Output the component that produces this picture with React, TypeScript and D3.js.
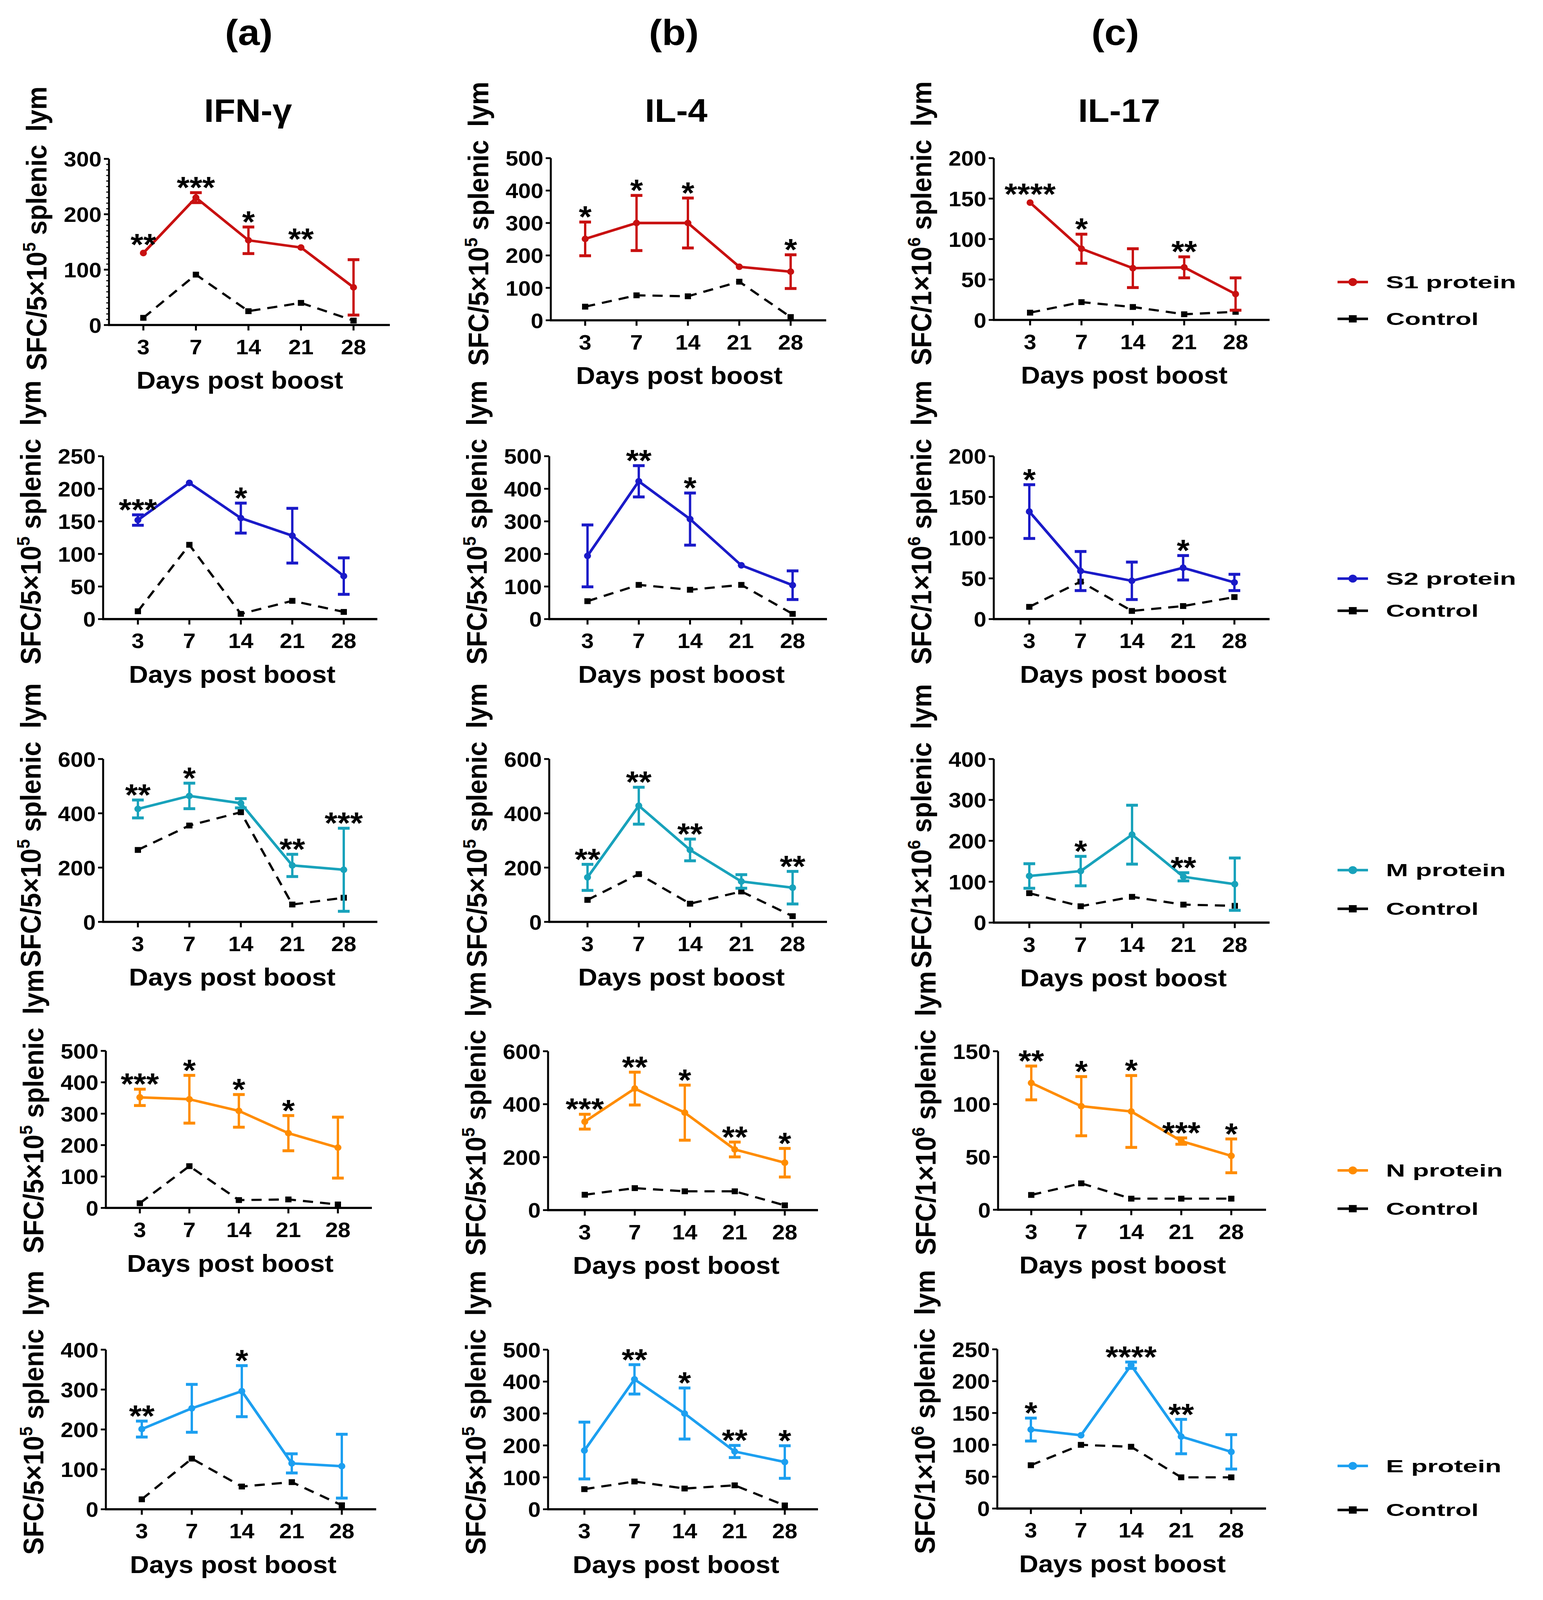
import React from "react";
import * as d3 from "d3";

// ---------- categories & labels ----------
const days = [3, 7, 14, 21, 28];
const columnTags = ["(a)", "(b)", "(c)"];
const cytokines = ["IFN-γ", "IL-4", "IL-17"];
const proteins = ["S1 protein", "S2 protein", "M protein", "N protein", "E protein"];
const controlLabel = "Control";
const xTitle = "Days post boost";
const unitBase = ["5×10", "5×10", "1×10"];
const unitExp = ["5", "5", "6"];

// ---------- y axis extents (row = protein, col = cytokine) ----------
const yMaxIFN = [300, 250, 600, 500, 400];
const yStepIFN = [100, 50, 200, 100, 100];
const yMaxIL4 = [500, 500, 600, 600, 500];
const yStepIL4 = [100, 100, 200, 200, 100];
const yMaxIL17 = [200, 200, 400, 150, 250];
const yStepIL17 = [50, 50, 100, 50, 50];

// ---------- S1 ----------
const s1IfnMean = [130, 230, 153, 140, 68];
const s1IfnErr = [0, 9, 24, 0, 50];
const s1IfnCtrl = [13, 91, 25, 40, 8];
const s1IfnSig = ["**", "***", "*", "**", ""];
const s1Il4Mean = [251, 300, 300, 165, 150];
const s1Il4Err = [52, 85, 77, 0, 52];
const s1Il4Ctrl = [42, 77, 74, 119, 10];
const s1Il4Sig = ["*", "*", "*", "", "*"];
const s1Il17Mean = [145, 88, 64, 65, 32];
const s1Il17Err = [0, 18, 24, 13, 20];
const s1Il17Ctrl = [9, 22, 16, 7, 10];
const s1Il17Sig = ["****", "*", "", "**", ""];

// ---------- S2 ----------
const s2IfnMean = [152, 209, 155, 128, 66];
const s2IfnErr = [8, 0, 23, 42, 28];
const s2IfnCtrl = [12, 114, 8, 28, 11];
const s2IfnSig = ["***", "", "*", "", ""];
const s2Il4Mean = [194, 423, 307, 165, 104];
const s2Il4Err = [95, 48, 80, 0, 44];
const s2Il4Ctrl = [55, 105, 90, 105, 16];
const s2Il4Sig = ["", "**", "*", "", ""];
const s2Il17Mean = [132, 59, 47, 63, 45];
const s2Il17Err = [33, 24, 23, 15, 10];
const s2Il17Ctrl = [15, 46, 10, 16, 27];
const s2Il17Sig = ["*", "", "", "*", ""];

// ---------- M ----------
const mIfnMean = [416, 464, 437, 208, 192];
const mIfnErr = [33, 47, 17, 41, 153];
const mIfnCtrl = [265, 355, 404, 64, 89];
const mIfnSig = ["**", "*", "", "**", "***"];
const mIl4Mean = [164, 428, 265, 149, 126];
const mIl4Err = [48, 68, 40, 25, 60];
const mIl4Ctrl = [81, 176, 67, 112, 21];
const mIl4Sig = ["**", "**", "**", "", "**"];
const mIl17Mean = [114, 126, 215, 112, 94];
const mIl17Err = [30, 36, 72, 10, 64];
const mIl17Ctrl = [72, 40, 63, 44, 41];
const mIl17Sig = ["", "*", "", "**", ""];

// ---------- N ----------
const nIfnMean = [352, 346, 309, 238, 192];
const nIfnErr = [26, 76, 52, 56, 97];
const nIfnCtrl = [15, 133, 25, 27, 11];
const nIfnSig = ["***", "*", "*", "*", ""];
const nIl4Mean = [334, 459, 368, 229, 179];
const nIl4Err = [28, 62, 104, 28, 54];
const nIl4Ctrl = [58, 83, 71, 71, 18];
const nIl4Sig = ["***", "**", "*", "**", "*"];
const nIl17Mean = [120, 98, 93, 65, 51];
const nIl17Err = [16, 28, 34, 3, 16];
const nIl17Ctrl = [14, 25, 10.5, 10.5, 10.5];
const nIl17Sig = ["**", "*", "*", "***", "*"];

// ---------- E ----------
const eIfnMean = [201, 253, 296, 115, 108];
const eIfnErr = [20, 60, 64, 24, 80];
const eIfnCtrl = [25, 127, 57, 68, 10];
const eIfnSig = ["**", "", "*", "", ""];
const eIl4Mean = [184, 407, 300, 181, 148];
const eIl4Err = [89, 46, 80, 19, 51];
const eIl4Ctrl = [63, 87, 65, 75, 12];
const eIl4Sig = ["", "**", "*", "**", "*"];
const eIl17Mean = [124, 115, 225, 113, 89];
const eIl17Err = [18, 0, 5, 27, 27];
const eIl17Ctrl = [68, 100, 97, 49, 49];
const eIl17Sig = ["*", "", "****", "**", ""];

// ---------- styles ----------
const proteinColors = ["#c81010", "#1a1ac8", "#18a2bb", "#ff8c00", "#1c9ff0"];
const FONT = "'Liberation Sans', Arial, Helvetica, sans-serif";

// ---------- layout: [axisX, topY, zeroY, firstTickX, lastTickX, axisEndX] ----------
const W = 3950;
const H = 4391;
const frames = [
  [[279, 436, 892, 367, 905, 998], [1410, 434, 879, 1498, 2024, 2115], [2544, 434, 878, 2637, 3163, 3250]],
  [[264, 1252, 1699, 353, 880, 966], [1406, 1252, 1699, 1504, 2029, 2117], [2544, 1252, 1699, 2635, 3160, 3250]],
  [[264, 2083, 2530, 353, 880, 966], [1406, 2083, 2530, 1504, 2029, 2117], [2544, 2083, 2532, 2635, 3161, 3250]],
  [[271, 2884, 3315, 358, 865, 952], [1403, 2885, 3321, 1497, 2009, 2094], [2555, 2885, 3320, 2640, 3152, 3241]],
  [[271, 3704, 4142, 363, 875, 963], [1403, 3704, 4142, 1496, 2009, 2094], [2553, 3703, 4140, 2639, 3152, 3241]],
];
const legendYs = [[774, 875], [1588, 1676], [2388, 2494], [3212, 3317], [4023, 4144]];
const titleX = [637, 1725, 2855];
const cytoX = [635, 1731, 2865];

// ---------- table built from the arrays ----------
const rowsData = [
  [[s1IfnMean, s1IfnErr, s1IfnCtrl, s1IfnSig], [s1Il4Mean, s1Il4Err, s1Il4Ctrl, s1Il4Sig], [s1Il17Mean, s1Il17Err, s1Il17Ctrl, s1Il17Sig]],
  [[s2IfnMean, s2IfnErr, s2IfnCtrl, s2IfnSig], [s2Il4Mean, s2Il4Err, s2Il4Ctrl, s2Il4Sig], [s2Il17Mean, s2Il17Err, s2Il17Ctrl, s2Il17Sig]],
  [[mIfnMean, mIfnErr, mIfnCtrl, mIfnSig], [mIl4Mean, mIl4Err, mIl4Ctrl, mIl4Sig], [mIl17Mean, mIl17Err, mIl17Ctrl, mIl17Sig]],
  [[nIfnMean, nIfnErr, nIfnCtrl, nIfnSig], [nIl4Mean, nIl4Err, nIl4Ctrl, nIl4Sig], [nIl17Mean, nIl17Err, nIl17Ctrl, nIl17Sig]],
  [[eIfnMean, eIfnErr, eIfnCtrl, eIfnSig], [eIl4Mean, eIl4Err, eIl4Ctrl, eIl4Sig], [eIl17Mean, eIl17Err, eIl17Ctrl, eIl17Sig]],
];
const yMaxes = [yMaxIFN, yMaxIL4, yMaxIL17];
const ySteps = [yStepIFN, yStepIL4, yStepIL17];

type PanelProps = {
  frame: number[];
  mean: number[];
  err: number[];
  ctrl: number[];
  sig: string[];
  yMax: number;
  yStep: number;
  color: string;
  col: number;
  minor: boolean;
};

function Panel({ frame, mean, err, ctrl, sig, yMax, yStep, color, col, minor }: PanelProps) {
  const [ax, top, zero, x0, x1, end] = frame;
  const x = d3.scalePoint<number>().domain(days).range([x0, x1]);
  const y = d3.scaleLinear().domain([0, yMax]).range([zero, top]);
  const ticks = d3.range(0, yMax + 1e-6, yStep);
  const minorTicks = minor
    ? d3.range(0, yMax + 1e-6, yStep / 10).filter((v) => Math.abs(v / yStep - Math.round(v / yStep)) > 1e-6)
    : [];
  const line = d3
    .line<number>()
    .x((_, i) => x(days[i]) as number)
    .y((d) => y(d));
  const capW = 15;
  const xMid = (x0 + x1) / 2 - 22;
  return (
    <g fontFamily={FONT} fontWeight="bold">
      <path d={line(ctrl) || ""} fill="none" stroke="#000" strokeWidth={6} strokeDasharray="26 18" />
      {ctrl.map((v, i) => (
        <rect key={"c" + i} x={(x(days[i]) as number) - 8} y={y(v) - 8} width={16} height={16} fill="#000" />
      ))}
      <line x1={ax} x2={ax} y1={zero} y2={top} stroke="#000" strokeWidth={5} />
      <line x1={ax - 2} x2={end} y1={zero} y2={zero} stroke="#000" strokeWidth={6} />
      {ticks.map((t) => (
        <g key={"t" + t}>
          <line x1={ax - 13} x2={ax} y1={y(t)} y2={y(t)} stroke="#000" strokeWidth={5} />
          <text x={ax - 19} y={y(t) + 21} textAnchor="end" fontSize={58}>
            {t}
          </text>
        </g>
      ))}
      {minorTicks.map((t) => (
        <line key={"m" + t} x1={ax - 7} x2={ax} y1={y(t)} y2={y(t)} stroke="#000" strokeWidth={3} />
      ))}
      {days.map((d) => (
        <g key={"x" + d}>
          <line x1={x(d)} x2={x(d)} y1={zero} y2={zero + 15} stroke="#000" strokeWidth={5} />
          <text x={x(d)} y={zero + 80} textAnchor="middle" fontSize={58}>
            {String(d)}
          </text>
        </g>
      ))}
      <text x={xMid} y={zero + 175} textAnchor="middle" fontSize={68}>
        {xTitle}
      </text>
      <text transform={`translate(${ax - 160},${zero - 265}) rotate(-90)`} textAnchor="middle" fontSize={72}>
        {"SFC/" + unitBase[col]}
        <tspan dy={-28} fontSize={46}>
          {unitExp[col]}
        </tspan>
        <tspan dy={28}>{" splenic\u2002lym"}</tspan>
      </text>
      <path d={line(mean) || ""} fill="none" stroke={color} strokeWidth={7} strokeLinejoin="round" />
      {mean.map((v, i) => {
        const cx = x(days[i]) as number;
        const e = err[i];
        return (
          <g key={"p" + i}>
            {e > 0 && (
              <g stroke={color} strokeWidth={6}>
                <line x1={cx} x2={cx} y1={y(v + e)} y2={y(v - e)} />
                <line x1={cx - capW} x2={cx + capW} y1={y(v + e)} y2={y(v + e)} strokeWidth={8} />
                <line x1={cx - capW} x2={cx + capW} y1={y(v - e)} y2={y(v - e)} strokeWidth={8} />
              </g>
            )}
            <circle cx={cx} cy={y(v)} r={9} fill={color} />
          </g>
        );
      })}
      {sig.map((s, i) => {
        if (!s) return null;
        const cx = x(days[i]) as number;
        const topY = Math.min(y(mean[i] + err[i]), y(mean[i]) - 9);
        return (
          <text key={"s" + i} x={cx} y={topY + 15} textAnchor="middle" fontSize={84}>
            {s}
          </text>
        );
      })}
    </g>
  );
}

function Legend({ row }: { row: number }) {
  const [y1, y2] = legendYs[row];
  const color = proteinColors[row];
  const lx1 = 3424;
  const lx2 = 3502;
  const cx = (lx1 + lx2) / 2;
  const tx = 3548;
  return (
    <g fontFamily={FONT} fontWeight="bold">
      <line x1={lx1} x2={lx2} y1={y1} y2={y1} stroke={color} strokeWidth={7} />
      <circle cx={cx} cy={y1} r={11} fill={color} />
      <text transform={`translate(${tx},${y1 + 17}) scale(1.42,1)`} fontSize={48}>
        {proteins[row]}
      </text>
      <line x1={lx1} x2={lx2} y1={y2} y2={y2} stroke="#000" strokeWidth={7} />
      <rect x={cx - 10} y={y2 - 10} width={20} height={20} fill="#000" />
      <text transform={`translate(${tx},${y2 + 17}) scale(1.39,1)`} fontSize={48}>
        {controlLabel}
      </text>
    </g>
  );
}

export default function App() {
  // The figure is laid out on a 3950 x 4391 canvas and fitted to the visible viewport,
  // so nothing is cut off when the viewport is shorter than the requested window.
  return (
    <svg
      viewBox={`0 0 ${W} ${H}`}
      preserveAspectRatio="none"
      style={{ display: "block", width: "100vw", height: "100vh" }}
    >
      <style>{"html,body{margin:0;padding:0;overflow:hidden;background:#fff}"}</style>
      <rect width={W} height={H} fill="#fff" />
      {columnTags.map((t, c) => (
        <text key={t} x={titleX[c]} y={123} textAnchor="middle" fontSize={100} fontWeight="bold" fontFamily={FONT}>
          {t}
        </text>
      ))}
      {cytokines.map((t, c) => (
        <text key={t} x={cytoX[c]} y={335} textAnchor="middle" fontSize={90} fontWeight="bold" fontFamily={FONT}>
          {t}
        </text>
      ))}
      {rowsData.map((row, r) =>
        row.map((p, c) => (
          <Panel
            key={r + "-" + c}
            frame={frames[r][c]}
            mean={p[0] as number[]}
            err={p[1] as number[]}
            ctrl={p[2] as number[]}
            sig={p[3] as string[]}
            yMax={yMaxes[c][r]}
            yStep={ySteps[c][r]}
            color={proteinColors[r]}
            col={c}
            minor={r === 0 && c === 0}
          />
        ))
      )}
      {proteins.map((_, r) => (
        <Legend key={r} row={r} />
      ))}
    </svg>
  );
}
